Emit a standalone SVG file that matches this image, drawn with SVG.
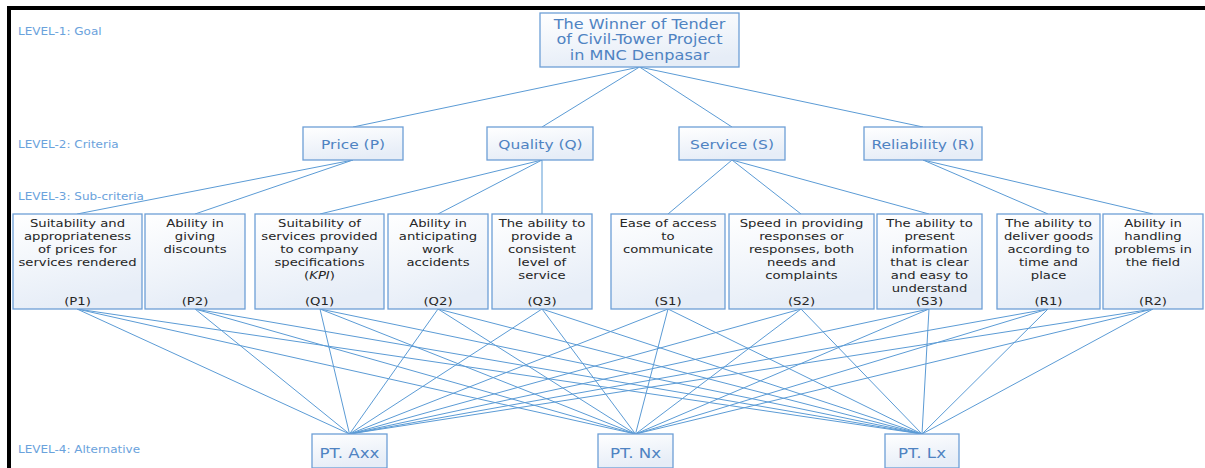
<svg xmlns="http://www.w3.org/2000/svg" width="1205" height="468" viewBox="0 0 1205 468">
<defs>
<linearGradient id="bg" x1="0" y1="0" x2="0.3" y2="1">
<stop offset="0" stop-color="#ffffff"/>
<stop offset="1" stop-color="#e6edf7"/>
</linearGradient>
<style>
.box{fill:url(#bg);stroke:#6d9fd6;stroke-width:1.3}
text{font-family:"DejaVu Sans","Liberation Sans",sans-serif}
.lvl{font-size:10px;fill:#6aa2dc}
.goal{font-size:13.2px;fill:#4f83c2;text-anchor:middle}
.crit{font-size:13px;fill:#4f83c2;text-anchor:middle}
.sub{font-size:11.2px;fill:#262626;text-anchor:middle}
.alt{font-size:14.5px;fill:#4f83c2;text-anchor:middle}
.c line{stroke:#5b9bd5;stroke-width:1}
</style>
</defs>
<rect x="0" y="0" width="1205" height="468" fill="#ffffff"/>
<rect x="7" y="6" width="1198" height="4" fill="#000"/>
<rect x="7" y="6" width="4" height="462" fill="#000"/>

<g id="levels" transform="translate(18 0) scale(1.2 1)">
<text class="lvl" x="0" y="35.3">LEVEL-1: Goal</text>
<text class="lvl" x="0" y="147.6">LEVEL-2: Criteria</text>
<text class="lvl" x="0" y="199.6">LEVEL-3: Sub-criteria</text>
<text class="lvl" x="0" y="453">LEVEL-4: Alternative</text>
</g>

<g id="connectors" class="c">
<line x1="639.5" y1="67" x2="353" y2="127"/>
<line x1="639.5" y1="67" x2="542" y2="127"/>
<line x1="639.5" y1="67" x2="732" y2="127"/>
<line x1="639.5" y1="67" x2="923" y2="127"/>
<line x1="353" y1="160" x2="77" y2="214"/>
<line x1="353" y1="160" x2="195" y2="214"/>
<line x1="542" y1="160" x2="320" y2="214"/>
<line x1="542" y1="160" x2="438" y2="214"/>
<line x1="542" y1="160" x2="542" y2="214"/>
<line x1="732" y1="160" x2="668" y2="214"/>
<line x1="732" y1="160" x2="801" y2="214"/>
<line x1="732" y1="160" x2="929" y2="214"/>
<line x1="923" y1="160" x2="1048" y2="214"/>
<line x1="923" y1="160" x2="1153" y2="214"/>
<line x1="77" y1="309" x2="349.5" y2="434"/><line x1="77" y1="309" x2="635.5" y2="434"/><line x1="77" y1="309" x2="922" y2="434"/>
<line x1="195" y1="309" x2="349.5" y2="434"/><line x1="195" y1="309" x2="635.5" y2="434"/><line x1="195" y1="309" x2="922" y2="434"/>
<line x1="320" y1="309" x2="349.5" y2="434"/><line x1="320" y1="309" x2="635.5" y2="434"/><line x1="320" y1="309" x2="922" y2="434"/>
<line x1="438" y1="309" x2="349.5" y2="434"/><line x1="438" y1="309" x2="635.5" y2="434"/><line x1="438" y1="309" x2="922" y2="434"/>
<line x1="542" y1="309" x2="349.5" y2="434"/><line x1="542" y1="309" x2="635.5" y2="434"/><line x1="542" y1="309" x2="922" y2="434"/>
<line x1="668" y1="309" x2="349.5" y2="434"/><line x1="668" y1="309" x2="635.5" y2="434"/><line x1="668" y1="309" x2="922" y2="434"/>
<line x1="801" y1="309" x2="349.5" y2="434"/><line x1="801" y1="309" x2="635.5" y2="434"/><line x1="801" y1="309" x2="922" y2="434"/>
<line x1="929" y1="309" x2="349.5" y2="434"/><line x1="929" y1="309" x2="635.5" y2="434"/><line x1="929" y1="309" x2="922" y2="434"/>
<line x1="1048" y1="309" x2="349.5" y2="434"/><line x1="1048" y1="309" x2="635.5" y2="434"/><line x1="1048" y1="309" x2="922" y2="434"/>
<line x1="1153" y1="309" x2="349.5" y2="434"/><line x1="1153" y1="309" x2="635.5" y2="434"/><line x1="1153" y1="309" x2="922" y2="434"/>
</g>

<g id="goal">
<rect class="box" x="540" y="13" width="199" height="54"/>
<g transform="translate(639.5 0) scale(1.22 1)">
<text class="goal" x="0" y="29">The Winner of Tender</text>
<text class="goal" x="0" y="44.5">of Civil-Tower Project</text>
<text class="goal" x="0" y="60">in MNC Denpasar</text>
</g>
</g>

<g id="price"><rect class="box" x="303" y="127" width="100" height="33"/><text class="crit" x="0" y="148.7" transform="translate(353 0) scale(1.19 1)">Price (P)</text></g>
<g id="quality"><rect class="box" x="487" y="127" width="106" height="33"/><text class="crit" x="0" y="148.7" transform="translate(540.5 0) scale(1.19 1)">Quality (Q)</text></g>
<g id="service"><rect class="box" x="679" y="127" width="106" height="33"/><text class="crit" x="0" y="148.7" transform="translate(732 0) scale(1.19 1)">Service (S)</text></g>
<g id="reliability"><rect class="box" x="864" y="127" width="118" height="33"/><text class="crit" x="0" y="148.7" transform="translate(923 0) scale(1.19 1)">Reliability (R)</text></g>

<g id="p1"><rect class="box" x="13" y="214" width="129" height="95"/>
<g transform="translate(77.5 0) scale(1.18 1)"><text class="sub" x="0" y="227">Suitability and</text><text class="sub" x="0" y="240">appropriateness</text><text class="sub" x="0" y="253">of prices for</text><text class="sub" x="0" y="266">services rendered</text><text class="sub" x="0" y="305.5">(P1)</text></g></g>
<g id="p2"><rect class="box" x="145" y="214" width="100" height="95"/>
<g transform="translate(195 0) scale(1.18 1)"><text class="sub" x="0" y="227">Ability in</text><text class="sub" x="0" y="240">giving</text><text class="sub" x="0" y="253">discounts</text><text class="sub" x="0" y="305.5">(P2)</text></g></g>
<g id="q1"><rect class="box" x="255" y="214" width="129" height="95"/>
<g transform="translate(319.5 0) scale(1.18 1)"><text class="sub" x="0" y="227">Suitability of</text><text class="sub" x="0" y="240">services provided</text><text class="sub" x="0" y="253">to company</text><text class="sub" x="0" y="266">specifications</text><text class="sub" x="0" y="279">(<tspan font-style="italic">KPI</tspan>)</text><text class="sub" x="0" y="305.5">(Q1)</text></g></g>
<g id="q2"><rect class="box" x="388" y="214" width="100" height="95"/>
<g transform="translate(438 0) scale(1.18 1)"><text class="sub" x="0" y="227">Ability in</text><text class="sub" x="0" y="240">anticipating</text><text class="sub" x="0" y="253">work</text><text class="sub" x="0" y="266">accidents</text><text class="sub" x="0" y="305.5">(Q2)</text></g></g>
<g id="q3"><rect class="box" x="492" y="214" width="100" height="95"/>
<g transform="translate(542 0) scale(1.18 1)"><text class="sub" x="0" y="227">The ability to</text><text class="sub" x="0" y="240">provide a</text><text class="sub" x="0" y="253">consistent</text><text class="sub" x="0" y="266">level of</text><text class="sub" x="0" y="279">service</text><text class="sub" x="0" y="305.5">(Q3)</text></g></g>
<g id="s1"><rect class="box" x="611" y="214" width="114" height="95"/>
<g transform="translate(668 0) scale(1.18 1)"><text class="sub" x="0" y="227">Ease of access</text><text class="sub" x="0" y="240">to</text><text class="sub" x="0" y="253">communicate</text><text class="sub" x="0" y="305.5">(S1)</text></g></g>
<g id="s2"><rect class="box" x="729" y="214" width="145" height="95"/>
<g transform="translate(801.5 0) scale(1.18 1)"><text class="sub" x="0" y="227">Speed in providing</text><text class="sub" x="0" y="240">responses or</text><text class="sub" x="0" y="253">responses, both</text><text class="sub" x="0" y="266">needs and</text><text class="sub" x="0" y="279">complaints</text><text class="sub" x="0" y="305.5">(S2)</text></g></g>
<g id="s3"><rect class="box" x="877" y="214" width="105" height="95"/>
<g transform="translate(929.5 0) scale(1.18 1)"><text class="sub" x="0" y="227">The ability to</text><text class="sub" x="0" y="240">present</text><text class="sub" x="0" y="253">information</text><text class="sub" x="0" y="266">that is clear</text><text class="sub" x="0" y="279">and easy to</text><text class="sub" x="0" y="292">understand</text><text class="sub" x="0" y="305.5">(S3)</text></g></g>
<g id="r1"><rect class="box" x="997" y="214" width="103" height="95"/>
<g transform="translate(1048.5 0) scale(1.18 1)"><text class="sub" x="0" y="227">The ability to</text><text class="sub" x="0" y="240">deliver goods</text><text class="sub" x="0" y="253">according to</text><text class="sub" x="0" y="266">time and</text><text class="sub" x="0" y="279">place</text><text class="sub" x="0" y="305.5">(R1)</text></g></g>
<g id="r2"><rect class="box" x="1103" y="214" width="100" height="95"/>
<g transform="translate(1153 0) scale(1.18 1)"><text class="sub" x="0" y="227">Ability in</text><text class="sub" x="0" y="240">handling</text><text class="sub" x="0" y="253">problems in</text><text class="sub" x="0" y="266">the field</text><text class="sub" x="0" y="305.5">(R2)</text></g></g>

<g id="axx"><rect class="box" x="312" y="434" width="75" height="34"/><text class="alt" x="0" y="458" transform="translate(349.5 0) scale(1.15 1)">PT. Axx</text></g>
<g id="nx"><rect class="box" x="598" y="434" width="75" height="34"/><text class="alt" x="0" y="458" transform="translate(635.5 0) scale(1.15 1)">PT. Nx</text></g>
<g id="lx"><rect class="box" x="885" y="434" width="74" height="34"/><text class="alt" x="0" y="458" transform="translate(922 0) scale(1.15 1)">PT. Lx</text></g>
</svg>
